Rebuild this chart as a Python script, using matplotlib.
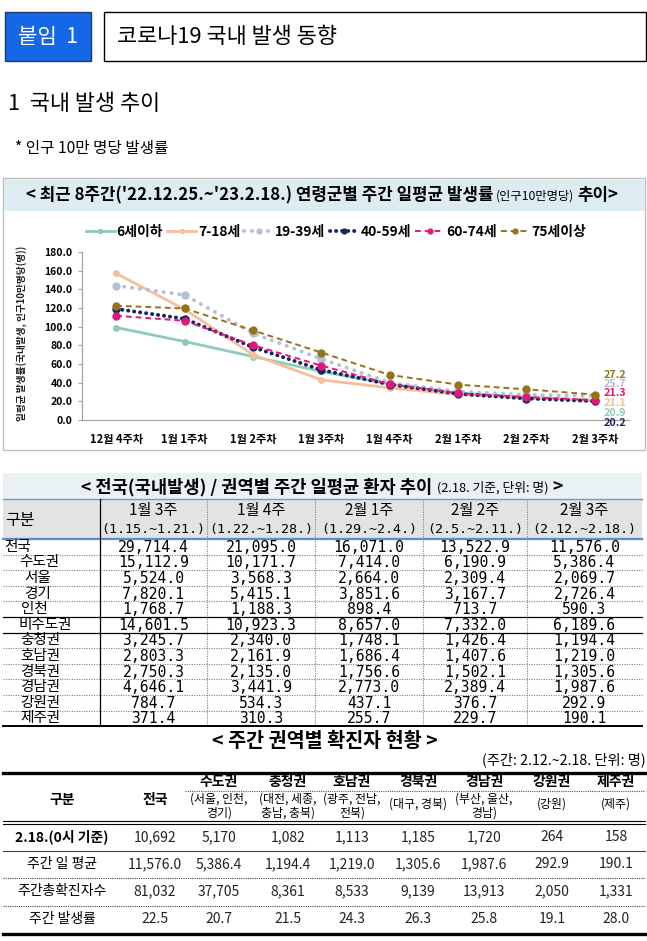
import matplotlib
matplotlib.use('Agg')
import matplotlib.pyplot as plt
from matplotlib.patches import Rectangle

plt.rcParams['font.family'] = ['Noto Sans CJK KR', 'DejaVu Sans']

# ---------------- data ----------------
weeks = ['12월 4주차', '1월 1주차', '1월 2주차', '1월 3주차', '1월 4주차', '2월 1주차', '2월 2주차', '2월 3주차']
groups = ['6세이하', '7-18세', '19-39세', '40-59세', '60-74세', '75세이상']
rate_0_6 = [99.1, 84.1, 68.0, 52.0, 38.5, 29.0, 24.5, 20.9]
rate_7_18 = [157.0, 118.5, 70.0, 43.0, 34.4, 27.5, 23.5, 21.1]
rate_19_39 = [144.0, 134.0, 93.0, 65.5, 40.0, 30.5, 27.0, 25.7]
rate_40_59 = [119.0, 108.5, 78.0, 53.7, 38.0, 28.0, 23.0, 20.2]
rate_60_74 = [111.7, 106.3, 80.2, 58.3, 38.5, 28.5, 24.5, 21.3]
rate_75 = [122.4, 119.5, 96.0, 72.3, 48.3, 37.9, 32.9, 27.2]
y_ticks = [0, 20, 40, 60, 80, 100, 120, 140, 160, 180]

t1_regions = ['전국', '수도권', '서울', '경기', '인천', '비수도권', '충청권', '호남권', '경북권', '경남권', '강원권', '제주권']
t1_weeks = ['1월 3주', '1월 4주', '2월 1주', '2월 2주', '2월 3주']
t1_ranges = ['(1.15.~1.21.)', '(1.22.~1.28.)', '(1.29.~2.4.)', '(2.5.~2.11.)', '(2.12.~2.18.)']
t1_w1 = [29714.4, 15112.9, 5524.0, 7820.1, 1768.7, 14601.5, 3245.7, 2803.3, 2750.3, 4646.1, 784.7, 371.4]
t1_w2 = [21095.0, 10171.7, 3568.3, 5415.1, 1188.3, 10923.3, 2340.0, 2161.9, 2135.0, 3441.9, 534.3, 310.3]
t1_w3 = [16071.0, 7414.0, 2664.0, 3851.6, 898.4, 8657.0, 1748.1, 1686.4, 1756.6, 2773.0, 437.1, 255.7]
t1_w4 = [13522.9, 6190.9, 2309.4, 3167.7, 713.7, 7332.0, 1426.4, 1407.6, 1502.1, 2389.4, 376.7, 229.7]
t1_w5 = [11576.0, 5386.4, 2069.7, 2726.4, 590.3, 6189.6, 1194.4, 1219.0, 1305.6, 1987.6, 292.9, 190.1]

t2_cols = ['전국', '수도권', '충청권', '호남권', '경북권', '경남권', '강원권', '제주권']
t2_sub = [None, ('(서울, 인천,', '경기)'), ('(대전, 세종,', '충남, 충북)'), ('(광주, 전남,', '전북)'),
          ('(대구, 경북)',), ('(부산, 울산,', '경남)'), ('(강원)',), ('(제주)',)]
t2_rows = ['2.18.(0시 기준)', '주간 일 평균', '주간총확진자수', '주간 발생률']
t2_daily = [10692, 5170, 1082, 1113, 1185, 1720, 264, 158]
t2_avg = [11576.0, 5386.4, 1194.4, 1219.0, 1305.6, 1987.6, 292.9, 190.1]
t2_total = [81032, 37705, 8361, 8533, 9139, 13913, 2050, 1331]
t2_rate = [22.5, 20.7, 21.5, 24.3, 26.3, 25.8, 19.1, 28.0]

# ---------------- figure ----------------
W, H = 647, 941
fig = plt.figure(figsize=(W / 100, H / 100), dpi=100)
fig.patch.set_facecolor('white')
ov = fig.add_axes([0, 0, 1, 1])
ov.set_xlim(0, W)
ov.set_ylim(H, 0)
ov.axis('off')
ov.patch.set_visible(False)
renderer = fig.canvas.get_renderer()


def fit(x, y, s, width, ha='left', va='center', base=10, **kw):
    t = ov.text(x, y, s, fontsize=base, ha=ha, va=va, **kw)
    w = t.get_window_extent(renderer).width
    t.set_fontsize(base * width / w)
    return t


def seq(xc, y, parts, width, gap=4):
    ts = [ov.text(0, y, s, fontsize=fs, fontweight=wt, ha='left', va='baseline') for s, fs, wt in parts]
    ws = [t.get_window_extent(renderer).width for t in ts]
    sc = (width - gap * (len(ts) - 1)) / sum(ws)
    for t, (s, fs, wt) in zip(ts, parts):
        t.set_fontsize(fs * sc)
    ws = [t.get_window_extent(renderer).width for t in ts]
    x = xc - (sum(ws) + gap * (len(ts) - 1)) / 2
    for t, w in zip(ts, ws):
        t.set_x(x)
        x += w + gap


def hline(y, x0, x1, **kw):
    ov.plot([x0, x1], [y, y], **kw)


def vline(x, y0, y1, **kw):
    ov.plot([x, x], [y0, y1], **kw)


DOT = dict(color='#7f7f7f', lw=0.8, linestyle=(0, (1, 1.2)))

# ---------------- header ----------------
ov.add_patch(Rectangle((5, 12), 86, 49, fc='#1468E8', ec='#1F3864', lw=1))
fit(48, 37, '붙임  1', 60, ha='center', color='white')
ov.add_patch(Rectangle((104, 12), 542, 49, fc='none', ec='black', lw=1))
fit(117, 37, '코로나19 국내 발생 동향', 220)
fit(8, 104, '1  국내 발생 추이', 152)
fit(15, 148, '* 인구 10만 명당 발생률', 153)

# ---------------- chart box ----------------
ov.add_patch(Rectangle((3, 178), 642, 272, fc='white', ec='#BFBFBF', lw=1))
ov.add_patch(Rectangle((3.5, 178.5), 641, 32, fc='#DDECF1', ec='none'))
seq(322, 200, [("< 최근 8주간('22.12.25.~'23.2.18.) 연령군별 주간 일평균 발생률", 11, 'bold'),
               ('(인구10만명당)', 8, 'normal'), ('추이>', 11, 'bold')], 590, gap=3)
yl = fit(22, 333, '일평균 발생률(국내발생, 인구10만명당(명))', 175, ha='center', fontweight='bold', color='#222222')
yl.set_rotation(90)

ax = fig.add_axes([82 / W, 1 - 420 / H, 547 / W, 168 / H])
ax.patch.set_visible(False)
series = [rate_0_6, rate_7_18, rate_19_39, rate_40_59, rate_60_74, rate_75]
colors = ['#8FCBB5', '#F7BE9A', '#B4BFD8', '#17245E', '#E2177E', '#94731A']
styles = ['-', '-', (0, (0.05, 2.0)), (0, (0.05, 1.5)), (0, (3, 2)), (0, (3, 2))]
widths = [2.0, 2.0, 2.8, 2.8, 1.4, 1.4]
msizes = [4, 4, 5, 5, 5, 5]
caps = ['butt', 'butt', 'round', 'round', 'butt', 'butt']
label_off = [(20, -12.5), (20, -2.7), (20, 12), (20, -22), (20, 7), (20, 19.6)]
xs = list(range(len(weeks)))
handles = []
for vals, c, ls, lw, ms, cap, g in zip(series, colors, styles, widths, msizes, caps, groups):
    h, = ax.plot(xs, vals, color=c, linestyle=ls, lw=lw, marker='o', ms=ms, mec=c, mfc=c,
                 dash_capstyle=cap, label=g)
    handles.append(h)
for vals, c, off in zip(series, colors, label_off):
    ax.annotate(f'{vals[-1]:.1f}', (xs[-1], vals[-1]), xytext=off, textcoords='offset pixels',
                ha='center', va='center', color=c, fontsize=7.8, fontweight='bold')
ax.set_xlim(-0.5, len(weeks) - 0.5)
ax.set_ylim(0, 180)
ax.set_yticks(y_ticks)
ax.set_yticklabels([f'{v:.1f}' for v in y_ticks], fontsize=7.5, fontweight='bold')
ax.set_xticks(xs)
ax.set_xticklabels(weeks, fontsize=8, fontweight='bold')
ax.tick_params(axis='x', length=0, pad=9)
ax.tick_params(axis='y', length=3, color='#A6A6A6', pad=4)
for s in ['top', 'right']:
    ax.spines[s].set_visible(False)
for s in ['left', 'bottom']:
    ax.spines[s].set_color('#A6A6A6')
    ax.spines[s].set_linewidth(0.9)
fig.legend(handles, groups, loc='center', bbox_to_anchor=(336 / W, 1 - 232 / H), ncol=6, frameon=False,
           prop={'weight': 'bold', 'size': 10}, handlelength=2.1, handletextpad=0.12,
           columnspacing=0.3, borderaxespad=0, borderpad=0, numpoints=1, markerscale=0.7)

# ---------------- table 1 ----------------
ov.add_patch(Rectangle((3, 473), 639, 26, fc='#EAF1F5', ec='none'))
seq(322, 492, [('< 전국(국내발생) / 권역별 주간 일평균 환자 추이', 11, 'bold'),
               ('(2.18. 기준, 단위: 명)', 8, 'normal'), ('>', 11, 'bold')], 480, gap=4)
ov.add_patch(Rectangle((3, 499), 639, 39, fc='#E3E3E3', ec='none'))
hline(499, 3, 642, color='#6A9BD1', lw=1.0)
hline(538.5, 3, 642, color='#5B8DC9', lw=1.6)
col_edges = [100, 207, 315, 423, 527, 642]
t1_top, pitch = 539.0, 15.6
t1_bot = t1_top + pitch * len(t1_regions)
vline(100, 499, t1_bot, color='black', lw=0.9)
for xe in col_edges[1:-1]:
    vline(xe, 499, t1_bot, **DOT)
ov.text(5, 520, '구분', fontsize=11.5, ha='left', va='center')
for i, (wk, rg) in enumerate(zip(t1_weeks, t1_ranges)):
    xc = (col_edges[i] + col_edges[i + 1]) / 2
    ov.text(xc, 511, wk, fontsize=11, ha='center', va='center')
    ov.text(xc, 530, rg, fontsize=9.6, ha='center', va='center', family='DejaVu Sans Mono')
label_x = [4, 19, 24, 24, 21, 19, 20, 20, 20, 20, 20, 20]
t1_cols = [t1_w1, t1_w2, t1_w3, t1_w4, t1_w5]
for r, reg in enumerate(t1_regions):
    yc = t1_top + pitch * r + pitch / 2
    ov.text(label_x[r], yc, reg, fontsize=10.5, ha='left', va='center')
    for i, col in enumerate(t1_cols):
        xc = (col_edges[i] + col_edges[i + 1]) / 2
        ov.text(xc, yc + 0.5, f'{col[r]:,.1f}', fontsize=10.6, ha='center', va='center',
                family='DejaVu Sans Mono')
    if r > 0:
        yb = t1_top + pitch * r
        if r in (5, 6):
            hline(yb, 3, 642, color='black', lw=0.9)
        else:
            hline(yb, 3, 642, **DOT)
hline(t1_bot, 3, 642, color='black', lw=1.4)

# ---------------- table 2 ----------------
fit(325, 741, '< 주간 권역별 확진자 현황 >', 225, ha='center', fontweight='bold')
fit(646, 760, '(주간: 2.12.~2.18. 단위: 명)', 164, ha='right')
hline(773, 3, 645, color='black', lw=2.4)
col_x = [155, 219, 288, 352, 418, 484, 552, 616]
ov.text(62, 800, '구분', fontsize=10, fontweight='bold', ha='center', va='center')
for j, (name, sub) in enumerate(zip(t2_cols, t2_sub)):
    if sub is None:
        ov.text(col_x[j], 800, name, fontsize=10, fontweight='bold', ha='center', va='center')
        continue
    ov.text(col_x[j], 782, name, fontsize=10, fontweight='bold', ha='center', va='center')
    if len(sub) == 2:
        ov.text(col_x[j], 799, sub[0], fontsize=8.6, ha='center', va='center')
        ov.text(col_x[j], 813, sub[1], fontsize=8.6, ha='center', va='center')
    else:
        ov.text(col_x[j], 804, sub[0], fontsize=8.6, ha='center', va='center')
hline(791, 185, 645, color='#555555', lw=0.8, linestyle=(0, (1, 1)))
hline(821, 3, 645, color='black', lw=0.8)
hline(824, 3, 645, color='black', lw=0.8)
row_y = [837, 864, 891, 919]
row_weights = ['bold', 'normal', 'normal', 'normal']
fmts = ['{:,.0f}', '{:,.1f}', '{:,.0f}', '{:,.1f}']
for r, (lab, vals) in enumerate(zip(t2_rows, [t2_daily, t2_avg, t2_total, t2_rate])):
    ov.text(62, row_y[r], lab, fontsize=10, fontweight=row_weights[r], ha='center', va='center')
    for j, v in enumerate(vals):
        ov.text(col_x[j], row_y[r], fmts[r].format(v), fontsize=10, ha='center', va='center',
                color='#222222')
hline(850.5, 3, 645, color='#444444', lw=0.8)
hline(877.5, 3, 645, color='#444444', lw=0.8, linestyle=(0, (1, 1)))
hline(905.5, 3, 645, color='#444444', lw=0.8, linestyle=(0, (1, 1)))
hline(934, 3, 645, color='black', lw=2.4)

fig.savefig('out.png', dpi=100, facecolor='white')
